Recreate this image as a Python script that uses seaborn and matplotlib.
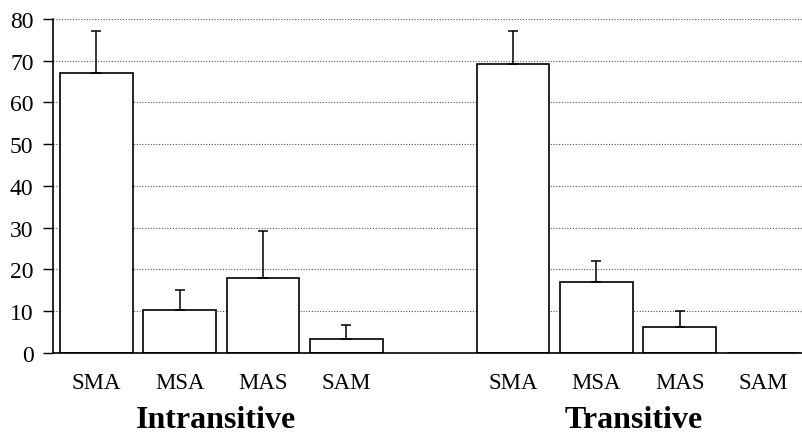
import numpy as np
import pandas as pd
import matplotlib
matplotlib.use("Agg")
import matplotlib.pyplot as plt
import seaborn as sns

# Word-order percentages by sentence type
orders = ["SMA", "MSA", "MAS", "SAM"]
groups = ["Intransitive", "Transitive"]
intransitive_mean = [67.1, 10.3, 17.9, 3.4]
intransitive_err = [10.1, 4.9, 11.2, 3.3]
transitive_mean = [69.2, 17.0, 6.3, 0.0]
transitive_err = [7.9, 5.0, 3.8, 0.0]

rows = []
for g, means, errs in [(groups[0], intransitive_mean, intransitive_err),
                       (groups[1], transitive_mean, transitive_err)]:
    for o, m, e in zip(orders, means, errs):
        rows.append({"slot": f"{g}-{o}", "group": g, "order": o, "value": m, "err": e})
df = pd.DataFrame(rows)

# one blank slot separates the two groups
slot_order = [f"{groups[0]}-{o}" for o in orders] + ["gap"] + [f"{groups[1]}-{o}" for o in orders]

sns.set_theme(style="white")
plt.rcParams["font.family"] = ["Liberation Serif", "DejaVu Serif"]

fig = plt.figure(figsize=(8.03, 4.35), dpi=100)
ax = fig.add_axes([0.066, 0.1862, 0.934, 0.768])

ax.set_axisbelow(True)
ax.yaxis.grid(True, linestyle=(0, (1, 1.5)), color="#555555", linewidth=0.8)

sns.barplot(data=df, x="slot", y="value", order=slot_order, color="white",
            edgecolor="black", linewidth=1.2, width=0.875, errorbar=None,
            saturation=1, ax=ax, zorder=2)

# upper-only error bars
xpos = [slot_order.index(s) for s in df["slot"]]
has_err = df["err"].to_numpy() > 0
ax.errorbar(np.array(xpos)[has_err], df["value"].to_numpy()[has_err],
            yerr=[np.zeros(has_err.sum()), df["err"].to_numpy()[has_err]],
            fmt="none", ecolor="black", elinewidth=1.1, capsize=3.5, capthick=1.1, zorder=3)

ax.set_ylim(0, 80)
ax.set_xlim(-0.52, 8.48)
ax.set_yticks(range(0, 81, 10))
ax.set_xticks(range(len(slot_order)))
ax.set_xticklabels([s.split("-")[1] if "-" in s else "" for s in slot_order])
ax.set_xlabel("")
ax.set_ylabel("")

for side in ["top", "right"]:
    ax.spines[side].set_visible(False)
for side in ["left", "bottom"]:
    ax.spines[side].set_color("black")
    ax.spines[side].set_linewidth(1.2)

ax.tick_params(axis="y", which="major", left=True, length=7, width=1.0,
               color="black", pad=7, labelsize=17, labelcolor="black")
ax.tick_params(axis="x", which="major", bottom=False, pad=8,
               labelsize=16.5, labelcolor="black")

# group captions under each block of bars
for g, center in [(groups[0], 1.44), (groups[1], 6.45)]:
    ax.text(center, -16.0, g, ha="center", va="center", fontsize=23,
            fontweight="bold", color="black", transform=ax.transData, clip_on=False)

fig.savefig("out.png", dpi=100)
